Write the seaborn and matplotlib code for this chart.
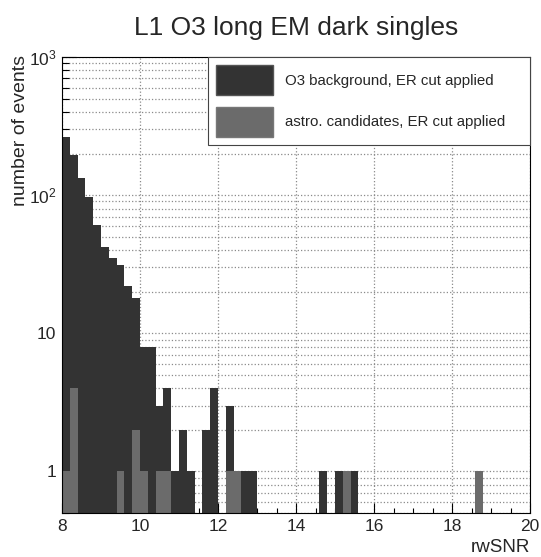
import numpy as np
import pandas as pd
import matplotlib
matplotlib.use('Agg')
import matplotlib.pyplot as plt
import seaborn as sns
from matplotlib.patches import Patch
from matplotlib.ticker import MultipleLocator, LogLocator, NullFormatter

# histogram binning (rwSNR from 8 to 20, width 0.2)
snr_range = (8, 20)
bin_width = 0.2

# O3 background, ER cut applied (bin centres with non-zero counts)
bg_snr = [8.1, 8.3, 8.5, 8.7, 8.9, 9.1, 9.3, 9.5, 9.7, 9.9,
          10.1, 10.3, 10.5, 10.7, 10.9, 11.1, 11.3, 11.7, 11.9,
          12.3, 12.5, 12.7, 12.9, 14.7, 15.1, 15.3, 15.5]
bg_counts = [265, 194, 132, 97, 61, 42, 35, 31, 22, 18,
             8, 8, 3, 4, 1, 2, 1, 2, 4,
             3, 1, 1, 1, 1, 1, 1, 1]

# astro. candidates, ER cut applied
astro_snr = [8.1, 8.3, 9.5, 9.9, 10.1, 10.5, 10.7, 12.3, 12.5, 15.3, 18.7]
astro_counts = [1, 4, 1, 2, 1, 1, 1, 1, 1, 1, 1]

y_ticks = [1, 10, 100, 1000]
y_ticklabels = ['1', '10', '$10^{2}$', '$10^{3}$']

bg = pd.DataFrame({'rwSNR': bg_snr, 'n': bg_counts})
astro = pd.DataFrame({'rwSNR': astro_snr, 'n': astro_counts})

sns.set_style('ticks')
plt.rcParams['font.family'] = ['Liberation Sans', 'DejaVu Sans']
plt.rcParams['mathtext.fontset'] = 'custom'
plt.rcParams['mathtext.rm'] = 'Liberation Sans'
plt.rcParams['mathtext.it'] = 'Liberation Sans'

fig = plt.figure(figsize=(5.41, 5.57), dpi=100)
ax = fig.add_axes([62 / 541, 1 - 513 / 557, 468 / 541, 456 / 557])

dark = '#333333'
grey = '#6b6b6b'

sns.histplot(data=bg, x='rwSNR', weights='n', binwidth=bin_width, binrange=snr_range,
             element='bars', color=dark, alpha=1, linewidth=0, ax=ax)
sns.histplot(data=astro, x='rwSNR', weights='n', binwidth=bin_width, binrange=snr_range,
             element='bars', color=grey, alpha=1, linewidth=0, ax=ax)

ax.set_yscale('log')
ax.set_xlim(8, 20)
ax.set_ylim(0.5, 1000)

# ticks, ROOT style
ax.xaxis.set_major_locator(MultipleLocator(2))
ax.xaxis.set_minor_locator(MultipleLocator(0.5))
ax.set_yticks(y_ticks, labels=y_ticklabels)
ax.yaxis.set_minor_locator(LogLocator(base=10, subs=np.arange(2, 10)))
ax.yaxis.set_minor_formatter(NullFormatter())
ax.tick_params(axis='both', which='both', direction='in', width=0.8, color='black')
ax.tick_params(axis='both', which='major', labelsize=12.5)
ax.tick_params(axis='x', which='major', length=7.5, pad=4)
ax.tick_params(axis='x', which='minor', length=3.8)
ax.tick_params(axis='y', which='major', length=10, pad=4)
ax.tick_params(axis='y', which='minor', length=5)

# dotted grid, behind the bars
ax.set_axisbelow(True)
ax.grid(which='major', axis='x', linestyle=':', color='#8a8a8a', linewidth=0.9)
ax.grid(which='both', axis='y', linestyle=':', color='#8a8a8a', linewidth=0.9)
for sp in ax.spines.values():
    sp.set_color('black')
    sp.set_linewidth(0.8)
    sp.set_zorder(5)

ax.set_title('L1 O3 long EM dark singles', fontsize=19, pad=16)
ax.set_xlabel('rwSNR', fontsize=13.5, loc='right')
ax.xaxis.set_label_coords(1.0, -0.058)
ax.set_ylabel('number of events', fontsize=14, loc='top')
ax.yaxis.set_label_coords(-0.0705, 1.005)

handles = [Patch(facecolor=dark, edgecolor='#555555'),
           Patch(facecolor=grey, edgecolor='#777777')]
labels = ['O3 background, ER cut applied', 'astro. candidates, ER cut applied']
leg = ax.legend(handles, labels, loc='upper left',
                bbox_to_anchor=(0.312, 0.811, 0.688, 0.189), mode='expand',
                borderaxespad=0, fontsize=10.8, handlelength=3.8, handleheight=2.7,
                handletextpad=0.75, labelspacing=0.75, borderpad=0.55,
                fancybox=False, framealpha=1, edgecolor='#444444')
leg.get_frame().set_linewidth(0.8)
leg.set_zorder(6)

fig.savefig('out.png', dpi=100)
